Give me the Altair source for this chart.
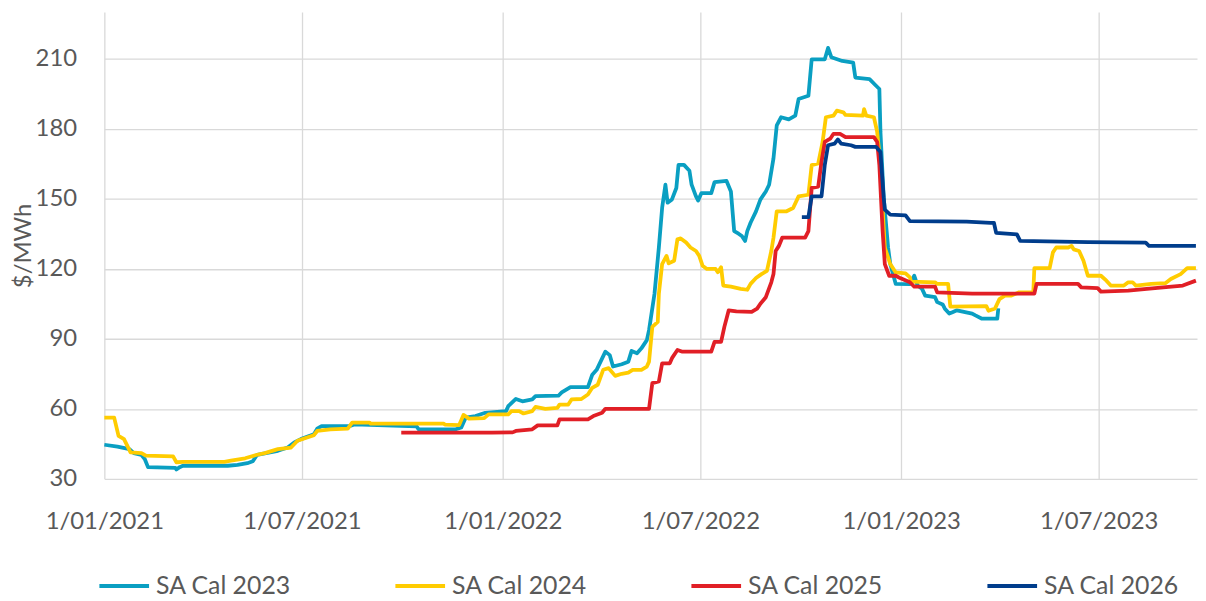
import altair as alt
import pandas as pd

series_names = ["SA Cal 2023", "SA Cal 2024", "SA Cal 2025", "SA Cal 2026"]
series_colors = ["#0A9FC2", "#FFCC00", "#E11F26", "#003D8C"]

y_ticks = [30, 60, 90, 120, 150, 180, 210]

dates_2023 = [
    "2021-01-01", "2021-01-13", "2021-01-24", "2021-01-28", "2021-02-04", "2021-02-07", "2021-02-10",
    "2021-03-07", "2021-03-08", "2021-03-11", "2021-03-14", "2021-04-24", "2021-05-03", "2021-05-12",
    "2021-05-17", "2021-05-21", "2021-05-28", "2021-06-09", "2021-06-18", "2021-06-24", "2021-06-30",
    "2021-07-12", "2021-07-15", "2021-07-19", "2021-08-14", "2021-08-18", "2021-10-14", "2021-10-16",
    "2021-11-19", "2021-11-24", "2021-11-28", "2021-12-07", "2021-12-16", "2022-01-04", "2022-01-06",
    "2022-01-13", "2022-01-19", "2022-01-28", "2022-01-31", "2022-02-21", "2022-02-24", "2022-03-04",
    "2022-03-20", "2022-03-24", "2022-03-28", "2022-04-05", "2022-04-09", "2022-04-12", "2022-04-20",
    "2022-04-26", "2022-04-29", "2022-05-04", "2022-05-08", "2022-05-13", "2022-05-15", "2022-05-20",
    "2022-05-24", "2022-05-27", "2022-05-30", "2022-06-01", "2022-06-05", "2022-06-09", "2022-06-11",
    "2022-06-16", "2022-06-21", "2022-06-23", "2022-06-27", "2022-06-29", "2022-07-02", "2022-07-11",
    "2022-07-14", "2022-07-25", "2022-07-29", "2022-08-01", "2022-08-05", "2022-08-08", "2022-08-11",
    "2022-08-13", "2022-08-16", "2022-08-21", "2022-08-25", "2022-08-30", "2022-09-02", "2022-09-06",
    "2022-09-09", "2022-09-13", "2022-09-20", "2022-09-26", "2022-09-29", "2022-10-08", "2022-10-11",
    "2022-10-23", "2022-10-26", "2022-10-29", "2022-11-08", "2022-11-18", "2022-11-20", "2022-12-03",
    "2022-12-09", "2022-12-12", "2022-12-13", "2022-12-16", "2022-12-20", "2022-12-22", "2022-12-27",
    "2023-01-09", "2023-01-13", "2023-01-16", "2023-01-20", "2023-01-23", "2023-02-01", "2023-02-03",
    "2023-02-08", "2023-02-10", "2023-02-14", "2023-02-17", "2023-02-21", "2023-03-07", "2023-03-10",
    "2023-03-16", "2023-03-30", "2023-03-31",
]
values_2023 = [
    44.6, 43.8, 42.7, 41.0, 40.2, 38.5, 35.0,
    34.7, 34.0, 35.0, 35.6, 35.6, 36.0, 36.7,
    37.5, 40.3, 40.9, 42.0, 43.4, 45.6, 47.0,
    49.1, 51.5, 52.6, 52.6, 53.3, 52.5, 51.2,
    51.2, 52.0, 56.2, 56.9, 58.3, 59.0, 61.1,
    64.2, 63.2, 64.0, 65.4, 65.6, 67.0, 69.3,
    69.3, 74.6, 76.7, 84.5, 83.0, 78.1, 79.1,
    80.2, 84.8, 83.8, 85.9, 89.4, 93.7, 109.3,
    129.1, 146.1, 156.0, 148.3, 149.7, 154.6, 164.5,
    164.5, 162.0, 156.0, 151.0, 149.2, 152.4, 152.4,
    157.1, 157.6, 153.1, 136.1, 135.0, 134.0, 131.9,
    136.1, 139.7, 144.6, 149.6, 153.1, 156.0, 167.3,
    181.4, 184.9, 184.0, 185.6, 192.7, 194.1, 209.7,
    209.7, 214.6, 210.6, 209.0, 208.3, 201.9, 201.2,
    198.4, 197.0, 178.6, 150.3, 129.1, 122.0, 113.5,
    113.4, 117.0, 112.8, 111.5, 108.5, 107.8, 105.7,
    104.7, 102.9, 100.8, 101.4, 102.2, 100.8, 100.0,
    98.6, 98.6, 103.0,
]

dates_2024 = [
    "2021-01-01", "2021-01-10", "2021-01-14", "2021-01-19", "2021-01-25", "2021-02-04", "2021-02-08",
    "2021-03-05", "2021-03-08", "2021-03-14", "2021-04-21", "2021-04-27", "2021-05-10", "2021-05-20",
    "2021-05-28", "2021-06-09", "2021-06-21", "2021-06-27", "2021-07-03", "2021-07-12", "2021-07-15",
    "2021-07-27", "2021-08-12", "2021-08-16", "2021-09-01", "2021-09-02", "2021-11-08", "2021-11-09",
    "2021-11-22", "2021-11-26", "2021-12-01", "2021-12-15", "2021-12-19", "2022-01-06", "2022-01-09",
    "2022-01-16", "2022-01-20", "2022-01-28", "2022-01-31", "2022-02-09", "2022-02-20", "2022-02-22",
    "2022-03-02", "2022-03-05", "2022-03-14", "2022-03-20", "2022-03-24", "2022-03-29", "2022-04-03",
    "2022-04-08", "2022-04-14", "2022-04-20", "2022-04-26", "2022-04-30", "2022-05-08", "2022-05-13",
    "2022-05-15", "2022-05-18", "2022-05-23", "2022-05-24", "2022-05-27", "2022-05-31", "2022-06-02",
    "2022-06-07", "2022-06-10", "2022-06-13", "2022-06-18", "2022-06-22", "2022-06-27", "2022-06-30",
    "2022-07-03", "2022-07-07", "2022-07-15", "2022-07-17", "2022-07-20", "2022-07-22", "2022-07-29",
    "2022-08-07", "2022-08-13", "2022-08-16", "2022-08-21", "2022-08-26", "2022-08-31", "2022-09-04",
    "2022-09-06", "2022-09-09", "2022-09-18", "2022-09-24", "2022-09-29", "2022-10-08", "2022-10-11",
    "2022-10-17", "2022-10-21", "2022-10-24", "2022-10-31", "2022-11-03", "2022-11-09", "2022-11-11",
    "2022-11-27", "2022-11-28", "2022-11-30", "2022-12-07", "2022-12-10", "2022-12-13", "2022-12-15",
    "2022-12-17", "2022-12-22", "2022-12-27", "2023-01-05", "2023-01-09", "2023-01-10", "2023-02-01",
    "2023-02-03", "2023-02-13", "2023-02-15", "2023-03-20", "2023-03-22", "2023-03-28", "2023-04-01",
    "2023-04-06", "2023-04-12", "2023-04-19", "2023-05-02", "2023-05-03", "2023-05-17", "2023-05-20",
    "2023-05-23", "2023-06-03", "2023-06-06", "2023-06-08", "2023-06-13", "2023-06-17", "2023-06-21",
    "2023-07-03", "2023-07-08", "2023-07-12", "2023-07-24", "2023-07-28", "2023-08-01", "2023-08-04",
    "2023-08-18", "2023-08-31", "2023-09-05", "2023-09-14", "2023-09-20", "2023-09-28",
]
values_2024 = [
    56.2, 56.2, 48.4, 47.0, 41.3, 41.0, 39.9,
    39.6, 37.1, 37.3, 37.3, 37.8, 38.8, 40.2,
    41.0, 42.7, 43.4, 46.3, 47.3, 48.7, 50.5,
    51.2, 51.5, 54.1, 54.1, 53.6, 53.6, 53.2,
    53.0, 57.4, 55.8, 56.0, 57.6, 57.6, 59.0,
    59.0, 58.0, 59.0, 60.8, 60.0, 60.4, 61.8,
    61.8, 64.0, 64.2, 66.1, 69.0, 70.3, 76.7,
    77.4, 74.1, 75.0, 75.5, 76.7, 76.7, 78.1,
    80.2, 95.1, 97.2, 109.3, 122.0, 125.5, 122.3,
    123.4, 132.6, 133.0, 131.2, 129.1, 127.6, 125.5,
    121.3, 119.9, 119.9, 118.5, 120.6, 112.8, 112.3,
    111.4, 111.0, 113.5, 116.0, 117.7, 119.1, 127.6,
    133.3, 144.6, 144.6, 146.0, 151.0, 151.7, 164.4,
    165.1, 174.3, 184.9, 185.6, 187.7, 187.0, 185.9,
    185.6, 188.4, 185.6, 184.9, 178.6, 164.4, 146.0,
    129.1, 122.0, 118.4, 118.0, 116.3, 114.5, 114.2,
    113.5, 113.5, 103.8, 104.0, 102.0, 103.0, 107.0,
    108.5, 108.5, 109.9, 109.9, 120.3, 120.3, 127.0,
    129.1, 129.1, 129.8, 128.3, 127.6, 123.4, 117.0,
    117.0, 114.9, 112.8, 112.8, 114.2, 114.2, 112.8,
    113.5, 113.8, 115.6, 117.7, 120.3, 120.3,
]

dates_2025 = [
    "2021-09-30", "2021-12-22", "2022-01-10", "2022-01-13", "2022-01-28", "2022-02-02", "2022-02-20",
    "2022-02-22", "2022-03-20", "2022-03-25", "2022-04-02", "2022-04-05", "2022-05-15", "2022-05-18",
    "2022-05-24", "2022-05-27", "2022-06-03", "2022-06-05", "2022-06-10", "2022-06-14", "2022-07-11",
    "2022-07-14", "2022-07-20", "2022-07-23", "2022-07-27", "2022-08-03", "2022-08-17", "2022-08-22",
    "2022-08-25", "2022-08-30", "2022-09-04", "2022-09-06", "2022-09-08", "2022-09-11", "2022-09-14",
    "2022-10-05", "2022-10-08", "2022-10-11", "2022-10-17", "2022-10-20", "2022-10-23", "2022-10-28",
    "2022-10-31", "2022-11-06", "2022-11-11", "2022-12-07", "2022-12-10", "2022-12-12", "2022-12-15",
    "2022-12-17", "2022-12-21", "2022-12-27", "2022-12-31", "2023-01-09", "2023-01-13", "2023-02-01",
    "2023-02-03", "2023-03-07", "2023-05-03", "2023-05-05", "2023-06-12", "2023-06-15", "2023-06-30",
    "2023-07-03", "2023-07-28", "2023-08-14", "2023-08-29", "2023-09-16", "2023-09-28",
]
values_2025 = [
    49.8, 49.8, 49.9, 50.5, 51.2, 52.9, 52.9,
    55.5, 55.5, 56.9, 58.3, 60.0, 60.0, 71.0,
    71.7, 79.5, 79.5, 81.7, 85.2, 84.5, 84.5,
    88.7, 88.7, 95.1, 102.2, 101.7, 101.5, 102.9,
    105.0, 107.8, 114.2, 117.7, 127.6, 129.8, 133.3,
    133.3, 136.1, 154.6, 155.2, 165.8, 174.3, 175.7,
    177.8, 177.8, 176.4, 176.4, 174.3, 164.4, 136.1,
    122.0, 117.0, 117.0, 116.0, 114.2, 112.3, 112.3,
    109.9, 109.3, 109.3, 113.5, 113.5, 112.0, 111.7,
    110.2, 110.6, 111.4, 112.0, 112.8, 114.9,
]

dates_2026 = [
    "2022-10-02", "2022-10-08", "2022-10-11", "2022-10-20", "2022-10-23", "2022-10-26", "2022-11-01",
    "2022-11-04", "2022-11-07", "2022-11-16", "2022-11-20", "2022-12-09", "2022-12-13", "2022-12-16",
    "2022-12-17", "2022-12-22", "2023-01-05", "2023-01-09", "2023-03-02", "2023-03-24", "2023-03-27",
    "2023-03-29", "2023-04-17", "2023-04-20", "2023-06-21", "2023-08-13", "2023-08-16", "2023-09-28",
]
values_2026 = [
    142.1, 142.1, 151.0, 151.0, 164.5, 172.9, 173.6,
    175.4, 173.6, 172.9, 172.2, 172.2, 170.0, 150.3,
    145.3, 143.2, 142.9, 140.4, 140.2, 139.6, 139.6,
    135.4, 134.7, 131.9, 131.4, 131.2, 129.8, 129.8,
]

rows = []
for name, ds, vs in zip(series_names,
                        [dates_2023, dates_2024, dates_2025, dates_2026],
                        [values_2023, values_2024, values_2025, values_2026]):
    for d, v in zip(ds, vs):
        rows.append({"series": name, "date": d, "price": v})
df = pd.DataFrame(rows)

FONT = "Lato"
TXT = "#595959"
FS = 24

x_vals = [alt.DateTime(year=y, month=m, date=1, utc=True)
          for y, m in [(2021, 1), (2021, 7), (2022, 1), (2022, 7), (2023, 1), (2023, 7)]]

chart = alt.Chart(df).mark_line(strokeWidth=3.8, strokeJoin="round").encode(
    x=alt.X("date:T",
            scale=alt.Scale(type="utc",
                            domain=[alt.DateTime(year=2021, month=1, date=1, utc=True),
                                    alt.DateTime(year=2023, month=9, date=29, utc=True)]),
            axis=alt.Axis(values=x_vals,
                          labelExpr="utcFormat(datum.value, '%-d/%m/%Y')",
                          title=None, grid=True, gridColor="#d9d9d9", gridWidth=1.3,
                          domain=False, ticks=False, tickSize=0, labelPadding=31,
                          labelFlush=False, labelOverlap=False,
                          labelFont=FONT, labelFontSize=FS, labelColor=TXT)),
    y=alt.Y("price:Q",
            scale=alt.Scale(domain=[30, 230], nice=False, zero=False),
            axis=alt.Axis(values=y_ticks, title="$/MWh", grid=True, gridColor="#d9d9d9",
                          gridWidth=1.3, domain=False, ticks=False, tickSize=0,
                          labelPadding=28, labelFont=FONT, labelFontSize=FS, labelColor=TXT,
                          titleFont=FONT, titleFontSize=FS, titleColor=TXT,
                          titleFontWeight="normal", titlePadding=0)),
    color=alt.Color("series:N",
                    scale=alt.Scale(domain=series_names, range=series_colors),
                    legend=alt.Legend(orient="none", legendX=-7, legendY=551,
                                      direction="horizontal", columns=4, title=None,
                                      symbolType="stroke", symbolSize=2500,
                                      symbolStrokeWidth=4, labelFont=FONT,
                                      labelFontSize=25, labelColor=TXT, labelOffset=5,
                                      columnPadding=97, padding=0)),
).properties(
    width=1100, height=470,
    autosize=alt.AutoSizeParams(type="none"),
    padding={"left": 97, "top": 2, "right": 1, "bottom": 120},
).configure_view(stroke=None)

chart.save("out.html", embed_options={"renderer": "svg", "actions": False})
